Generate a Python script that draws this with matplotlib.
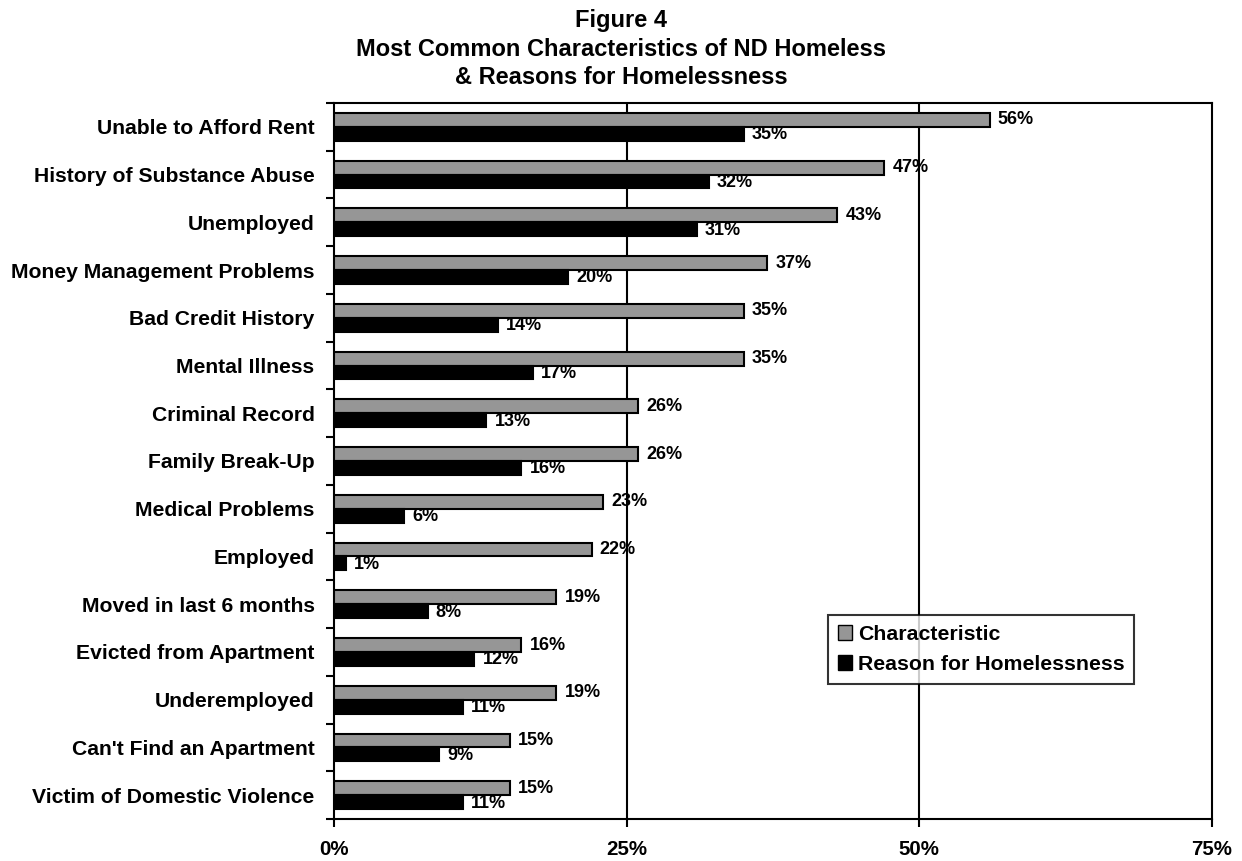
import matplotlib
matplotlib.use("Agg")
import matplotlib.pyplot as plt
import numpy as np

categories = ["Unable to Afford Rent", "History of Substance Abuse", "Unemployed",
              "Money Management Problems", "Bad Credit History", "Mental Illness",
              "Criminal Record", "Family Break-Up", "Medical Problems", "Employed",
              "Moved in last 6 months", "Evicted from Apartment", "Underemployed",
              "Can't Find an Apartment", "Victim of Domestic Violence"]
characteristic = [56, 47, 43, 37, 35, 35, 26, 26, 23, 22, 19, 16, 19, 15, 15]
reason = [35, 32, 31, 20, 14, 17, 13, 16, 6, 1, 8, 12, 11, 9, 11]
xticks = [0, 25, 50, 75]
xticklabels = ["0%", "25%", "50%", "75%"]

plt.rcParams['font.family'] = ['Liberation Sans', 'DejaVu Sans']
plt.rcParams['font.weight'] = 'bold'

fig = plt.figure(figsize=(12.42, 8.61), dpi=100)
ax = fig.add_axes([334/1242, 1-819/861, (1212-334)/1242, (819-103)/861])

n = len(categories)
y = np.arange(n)
h = 0.29
ax.barh(y - h/2, characteristic, height=h, color='#969696', edgecolor='black', linewidth=1.5, label='Characteristic', zorder=3)
ax.barh(y + h/2, reason, height=h, color='black', edgecolor='black', linewidth=1.5, label='Reason for Homelessness', zorder=3)

for i in range(n):
    ax.text(characteristic[i] + 0.7, y[i] - h/2, f"{characteristic[i]}%", va='center', ha='left',
            fontsize=13, fontweight='bold', zorder=4)
    ax.text(reason[i] + 0.7, y[i] + h/2 + 0.02, f"{reason[i]}%", va='center', ha='left',
            fontsize=13, fontweight='bold', zorder=4)

ax.set_xlim(0, 75)
ax.set_ylim(n - 0.5, -0.5)
ax.set_xticks(xticks)
ax.set_xticklabels(xticklabels, fontsize=14.8, fontweight='bold')
ax.set_yticks(y)
ax.set_yticklabels(categories, fontsize=15.2, fontweight='bold')
ax.set_yticks(np.arange(n + 1) - 0.5, minor=True)
ax.tick_params(axis='y', which='major', length=0, pad=14)
ax.tick_params(axis='y', which='minor', length=6, width=1.5, direction='out')
ax.tick_params(axis='x', which='major', length=6, width=1.5, direction='out', pad=9)
for s in ax.spines.values():
    s.set_linewidth(1.5)
for xv in [25, 50]:
    ax.axvline(xv, color='black', linewidth=1.5, zorder=1)

leg = ax.legend(loc='upper left', bbox_to_anchor=((828-334)/878, (819-615)/716),
                fontsize=15.3, frameon=True, fancybox=False, edgecolor='black',
                handlelength=0.7, handleheight=0.7, handletextpad=0.25, borderpad=0.45,
                labelspacing=0.55, borderaxespad=0)
leg.get_frame().set_linewidth(1.5)
for p in leg.get_patches():
    p.set_linewidth(1.0)

fig.text(0.5, 1-20/861, "Figure 4", ha='center', va='center', fontsize=17, fontweight='bold')
fig.text(0.5, 1-49/861, "Most Common Characteristics of ND Homeless", ha='center', va='center', fontsize=17, fontweight='bold')
fig.text(0.5, 1-78/861, "& Reasons for Homelessness", ha='center', va='center', fontsize=17, fontweight='bold')

fig.savefig("out.png", dpi=100)
